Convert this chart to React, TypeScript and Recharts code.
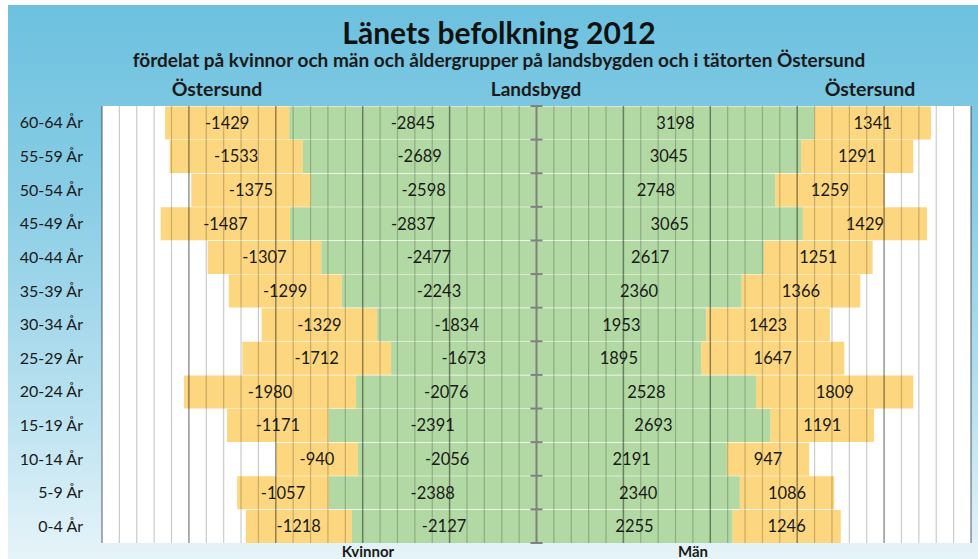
import {
  Bar,
  BarChart,
  CartesianGrid,
  LabelList,
  ReferenceLine,
  XAxis,
  YAxis,
} from "recharts";

const ageGroups = [
  "60-64 År",
  "55-59 År",
  "50-54 År",
  "45-49 År",
  "40-44 År",
  "35-39 År",
  "30-34 År",
  "25-29 År",
  "20-24 År",
  "15-19 År",
  "10-14 År",
  "5-9 År",
  "0-4 År",
];

const kvinnorLandsbygd = [-2845, -2689, -2598, -2837, -2477, -2243, -1834, -1673, -2076, -2391, -2056, -2388, -2127];
const kvinnorOstersund = [-1429, -1533, -1375, -1487, -1307, -1299, -1329, -1712, -1980, -1171, -940, -1057, -1218];
const manLandsbygd = [3198, 3045, 2748, 3065, 2617, 2360, 1953, 1895, 2528, 2693, 2191, 2340, 2255];
const manOstersund = [1341, 1291, 1259, 1429, 1251, 1366, 1423, 1647, 1809, 1191, 947, 1086, 1246];

// gridline positions (value axis, hidden)
const minorTicks = [
  -4800, -4600, -4400, -4200, -3800, -3600, -3400, -3200,
  -2800, -2600, -2400, -2200, -1800, -1600, -1400, -1200,
  -800, -600, -400, -200, 200, 400, 600, 800,
  1200, 1400, 1600, 1800, 2200, 2400, 2600, 2800,
  3200, 3400, 3600, 3800, 4200, 4400, 4600, 4800,
];
const majorTicks = [-5000, -4000, -3000, -2000, -1000, 1000, 2000, 3000, 4000, 5000];

const data = ageGroups.map((age, i) => ({
  age,
  kvLand: kvinnorLandsbygd[i],
  kvOst: kvinnorOstersund[i],
  manLand: manLandsbygd[i],
  manOst: manOstersund[i],
}));

const YELLOW = "#FBBC2A";
const GREEN = "#7FC066";
const FONT = "Lato, 'Noto Sans', sans-serif";

// center category axis: grey line with ticks on every band boundary
const CenterAxis = (props: any) => {
  const { x1, y1, x2, y2 } = props;
  if (x1 == null || y1 == null) return null;
  const top = Math.min(y1, y2);
  const bottom = Math.max(y1, y2);
  const step = (bottom - top) / ageGroups.length;
  const marks = [];
  for (let i = 0; i <= ageGroups.length; i++) {
    const y = top + i * step;
    marks.push(<line key={i} x1={x1 - 6} x2={x1 + 6} y1={y} y2={y} stroke="#808080" strokeWidth={2} />);
  }
  return (
    <g>
      <line x1={x1} x2={x2} y1={top} y2={bottom} stroke="#808080" strokeWidth={2} />
      {marks}
    </g>
  );
};

const labelStyle = { fontSize: 16.5, fill: "#1a1a1a", fontFamily: FONT };

const App = () => {
  return (
    <div
      style={{
        position: "absolute",
        left: 0,
        top: 0,
        width: 978,
        height: 559,
        overflow: "hidden",
        background: "#fff",
        fontFamily: FONT,
      }}
    >
      <div
        style={{
          position: "absolute",
          left: 8,
          top: 5,
          width: 970,
          height: 554,
          background: "linear-gradient(to bottom, #6CC1DF 0%, #8ACDE5 35%, #B6E0EF 70%, #E6F4F9 100%)",
        }}
      />
      <svg width={978} height={559} style={{ position: "absolute", left: 0, top: 0 }}>
        <text x={499} y={44} textAnchor="middle" fontSize={30} fontWeight={700} fill="#111" fontFamily={FONT}>
          Länets befolkning 2012
        </text>
        <text x={499} y={67} textAnchor="middle" fontSize={19} fontWeight={700} fill="#1a1a1a" fontFamily={FONT}>
          fördelat på kvinnor och män och åldergrupper på landsbygden och i tätorten Östersund
        </text>
        <text x={217} y={96} textAnchor="middle" fontSize={19.5} fontWeight={700} fill="#1a1a1a" fontFamily={FONT}>
          Östersund
        </text>
        <text x={536} y={96} textAnchor="middle" fontSize={19} fontWeight={700} fill="#1a1a1a" fontFamily={FONT}>
          Landsbygd
        </text>
        <text x={870} y={96} textAnchor="middle" fontSize={19.5} fontWeight={700} fill="#1a1a1a" fontFamily={FONT}>
          Östersund
        </text>
        <text x={368} y={557} textAnchor="middle" fontSize={15} fontWeight={700} fill="#1a1a1a" fontFamily={FONT}>
          Kvinnor
        </text>
        <text x={693} y={557} textAnchor="middle" fontSize={15} fontWeight={700} fill="#1a1a1a" fontFamily={FONT}>
          Män
        </text>
      </svg>
      <div style={{ position: "absolute", left: 0, top: 0 }}>
        <BarChart
          width={978}
          height={559}
          data={data}
          layout="vertical"
          stackOffset="sign"
          barCategoryGap={0.5}
          margin={{ top: 106, right: 7, bottom: 16, left: 0 }}
        >
          <CartesianGrid horizontal={false} vertical={false} fill="#ffffff" fillOpacity={1} />
          <XAxis
            type="number"
            domain={[-5000, 5000]}
            height={0}
            tick={false}
            axisLine={false}
            tickLine={false}
          />
          <YAxis
            type="category"
            dataKey="age"
            width={102}
            interval={0}
            axisLine={false}
            tickLine={false}
            tickMargin={13}
            tick={{ fontSize: 16, fill: "#1a1a1a", fontFamily: FONT }}
          />
          <Bar dataKey="kvLand" stackId="a" fill={GREEN} fillOpacity={0.6} isAnimationActive={false}>
            <LabelList dataKey="kvLand" position="center" style={labelStyle} />
          </Bar>
          <Bar dataKey="kvOst" stackId="a" fill={YELLOW} fillOpacity={0.6} isAnimationActive={false}>
            <LabelList dataKey="kvOst" position="center" style={labelStyle} />
          </Bar>
          <Bar dataKey="manLand" stackId="a" fill={GREEN} fillOpacity={0.6} isAnimationActive={false}>
            <LabelList dataKey="manLand" position="center" style={labelStyle} />
          </Bar>
          <Bar dataKey="manOst" stackId="a" fill={YELLOW} fillOpacity={0.6} isAnimationActive={false}>
            <LabelList dataKey="manOst" position="center" style={labelStyle} />
          </Bar>
          {minorTicks.map((v) => (
            <ReferenceLine key={`m${v}`} x={v} stroke="#000" strokeWidth={1.25} strokeOpacity={0.2} />
          ))}
          {majorTicks.map((v) => (
            <ReferenceLine key={v} x={v} stroke="#000" strokeWidth={1.5} strokeOpacity={0.42} />
          ))}
          <ReferenceLine x={0} shape={CenterAxis} />
        </BarChart>
      </div>
    </div>
  );
};

export default App;
